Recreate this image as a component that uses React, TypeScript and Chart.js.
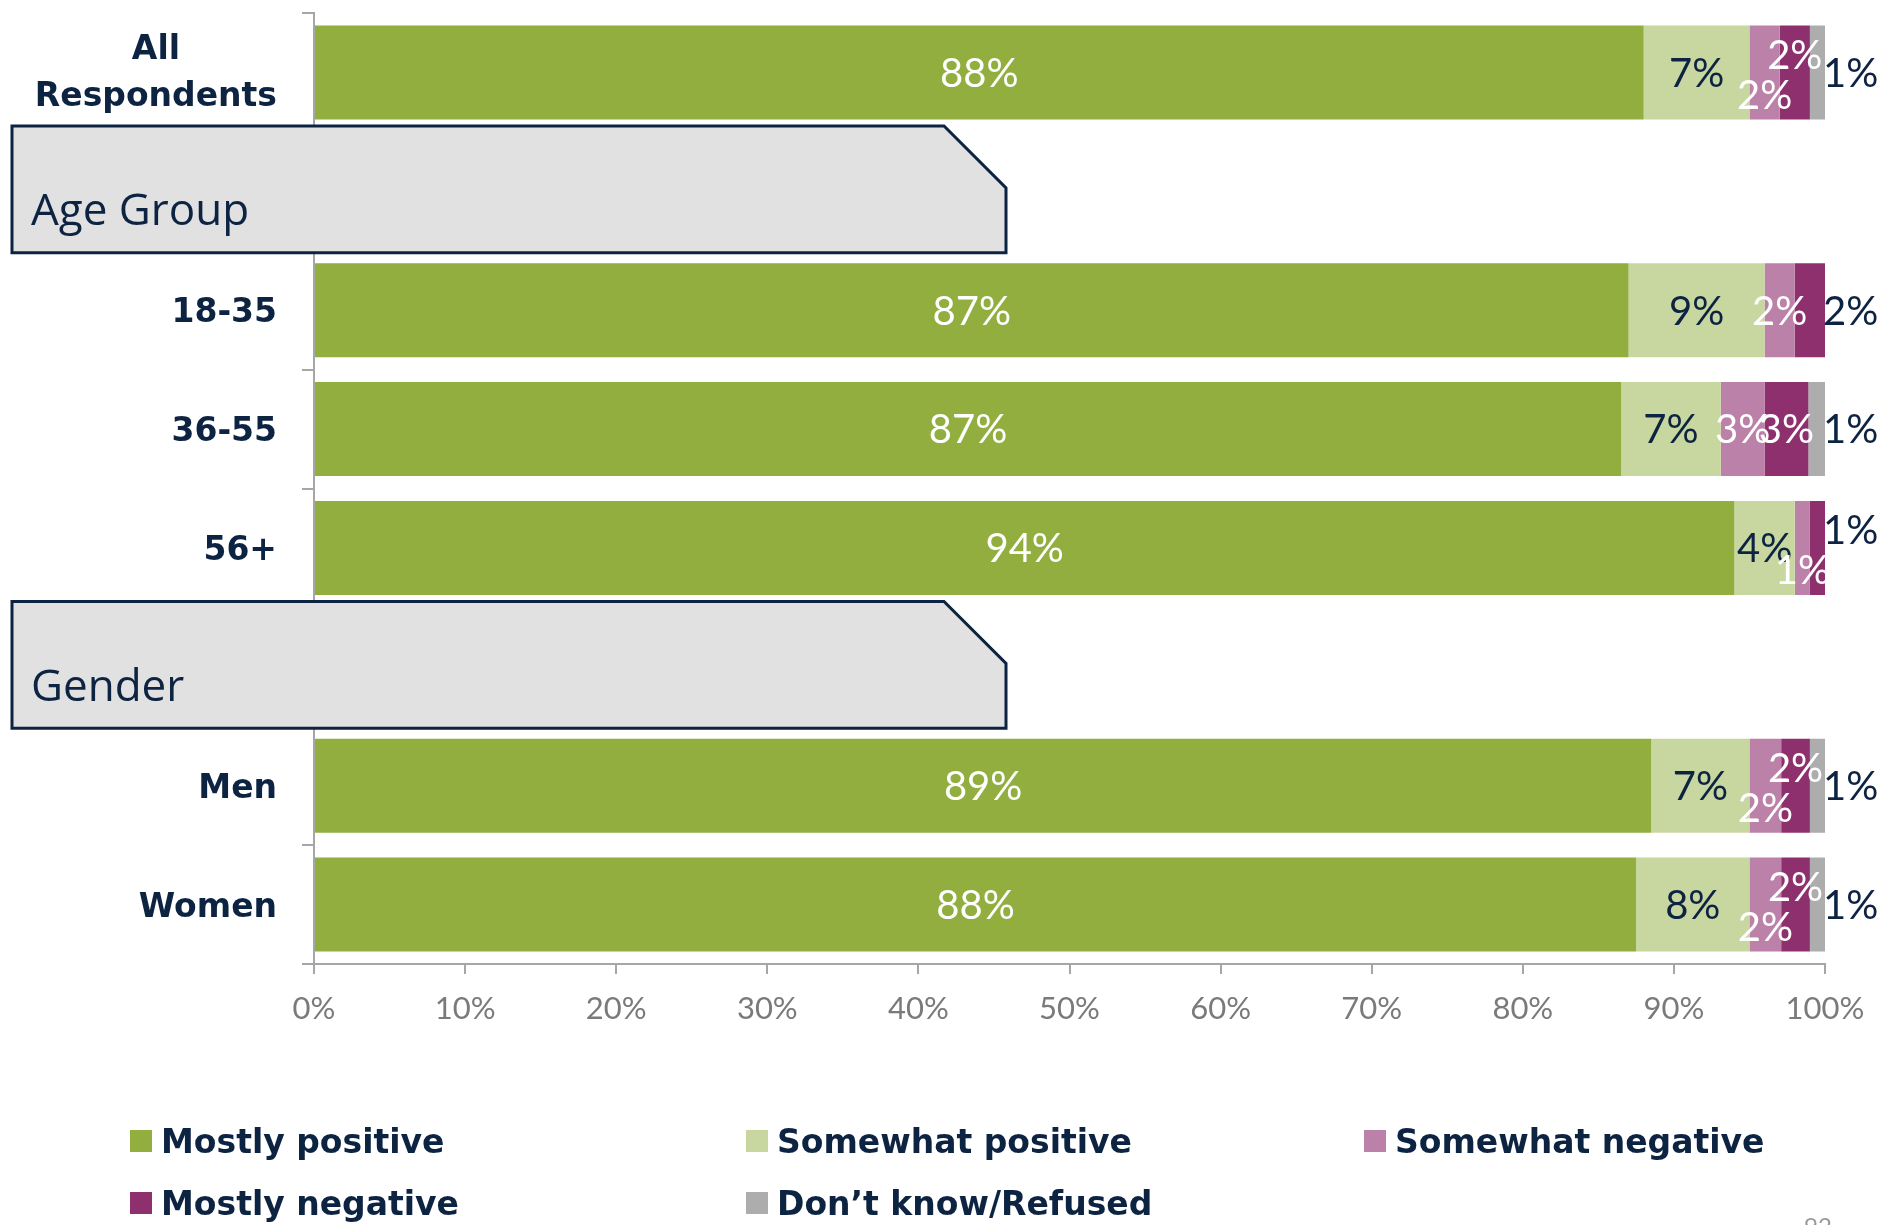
import React, { useEffect, useRef } from "react";
import { Chart, registerables } from "chart.js";

Chart.register(...registerables);

// ---- data ----
const categories: (string | string[])[] = [
  ["All", "Respondents"],
  "Age Group",
  "18-35",
  "36-55",
  "56+",
  "Gender",
  "Men",
  "Women",
];
const headerRows = [false, true, false, false, false, true, false, false];
const seriesNames = [
  "Mostly positive",
  "Somewhat positive",
  "Somewhat negative",
  "Mostly negative",
  "Don\u2019t know/Refused",
];
const mostlyPositive = [88, null, 87, 86.5, 94, null, 88.5, 87.5];
const somewhatPositive = [7, null, 9, 6.6, 4, null, 6.5, 7.5];
const somewhatNegative = [2, null, 2, 2.9, 1, null, 2.1, 2.1];
const mostlyNegative = [2, null, 2, 2.9, 1, null, 1.9, 1.9];
const dontKnow = [1, null, 0, 1.1, 0, null, 1.0, 1.0];
const xTickValues = [0, 10, 20, 30, 40, 50, 60, 70, 80, 90, 100];
const pageNumber = "92";

// ---- styles ----
const NAVY = "#0D2342";
const AXIS = "#A6A6A6";
const colors = ["#91AE3E", "#C8D79F", "#BC81A8", "#8E306E", "#ADADAD"];
const inLabelColors = ["#FFFFFF", NAVY, "#FFFFFF", "#FFFFFF", NAVY];
const VALUE_FONT = '40px Lato, "Open Sans", sans-serif';
const CAT_FONT = 'bold 33px "DejaVu Sans", sans-serif';
const LEGEND_FONT = 'bold 33px "DejaVu Sans", sans-serif';
const HEADER_FONT = '44px "Open Sans", "Noto Sans", sans-serif';

const overlayPlugin = {
  id: "overlay",
  afterDatasetsDraw(chart: any) {
    const ctx = chart.ctx;
    const ds = chart.data.datasets;
    ctx.save();
    ctx.font = VALUE_FONT;
    ctx.textBaseline = "alphabetic";
    const capHalf = 40 * 0.36;
    for (let i = 0; i < categories.length; i++) {
      if (headerRows[i]) continue;
      let last = -1;
      for (let d = 0; d < ds.length; d++) if ((ds[d].data[i] || 0) > 0) last = d;
      let prevLowered = false;
      for (let d = 0; d < ds.length; d++) {
        const v = ds[d].data[i] || 0;
        if (v <= 0) { prevLowered = false; continue; }
        const bar = chart.getDatasetMeta(d).data[i];
        const p = bar.getProps(["x", "base", "y"], true);
        const small = v < 2.5;
        let x: number;
        let y = p.y;
        let align: CanvasTextAlign = "center";
        let color = inLabelColors[d];
        let lowered = false;
        if (d === last && d >= 2) {
          x = p.x - 2;
          align = "left";
          color = NAVY;
          if (prevLowered) y -= 18;
        } else {
          x = (p.x + p.base) / 2;
          if (d === 2 && small) {
            const nextV = ds[3].data[i] || 0;
            if (v < 1.5 || (nextV > 0 && nextV < 2.5 && last !== 3)) {
              y += 22;
              lowered = true;
            }
          } else if (d === 3 && small && prevLowered) {
            y -= 18;
          }
        }
        ctx.fillStyle = color;
        ctx.textAlign = align;
        ctx.fillText(Math.round(v) + "%", x, y + capHalf);
        prevLowered = lowered;
      }
    }
    ctx.restore();
  },
  afterDraw(chart: any) {
    const ctx = chart.ctx;
    const yScale = chart.scales.y;
    ctx.save();
    // category labels and section headers
    for (let i = 0; i < categories.length; i++) {
      const cy = yScale.getPixelForValue(i);
      const top = yScale.getPixelForValue(i - 0.5);
      const bottom = yScale.getPixelForValue(i + 0.5);
      const lab = categories[i];
      if (headerRows[i]) {
        const left = 12, right = 1006, bt = top - 6, bb = bottom + 2, cut = 62;
        ctx.beginPath();
        ctx.moveTo(left, bt);
        ctx.lineTo(right - cut, bt);
        ctx.lineTo(right, bt + cut);
        ctx.lineTo(right, bb);
        ctx.lineTo(left, bb);
        ctx.closePath();
        ctx.fillStyle = "#E1E1E1";
        ctx.fill();
        ctx.lineWidth = 3;
        ctx.strokeStyle = NAVY;
        ctx.stroke();
        ctx.font = HEADER_FONT;
        ctx.fillStyle = NAVY;
        ctx.textAlign = "left";
        ctx.textBaseline = "alphabetic";
        ctx.fillText(String(lab), left + 19, cy + 34);
        continue;
      }
      ctx.font = CAT_FONT;
      ctx.fillStyle = NAVY;
      ctx.textBaseline = "alphabetic";
      const lines = Array.isArray(lab) ? lab : [lab];
      const rightEdge = 277;
      const lh = 47;
      if (lines.length === 1) {
        ctx.textAlign = "right";
        ctx.fillText(lines[0], rightEdge, cy + 12);
      } else {
        const w = Math.max(...lines.map((l) => ctx.measureText(l).width));
        const cx = rightEdge - w / 2;
        ctx.textAlign = "center";
        const firstBase = cy + 12 - ((lines.length - 1) * lh) / 2 - 2;
        lines.forEach((l, k) => ctx.fillText(l, cx, firstBase + k * lh));
      }
    }
    // legend
    const colX = [130, 746, 1364];
    const rowY = [1130, 1192];
    ctx.font = LEGEND_FONT;
    ctx.textAlign = "left";
    ctx.textBaseline = "alphabetic";
    seriesNames.forEach((name, k) => {
      const x = colX[k % 3];
      const y = rowY[Math.floor(k / 3)];
      ctx.fillStyle = colors[k];
      ctx.fillRect(x, y, 22, 22);
      ctx.fillStyle = NAVY;
      ctx.fillText(name, x + 31, y + 23);
    });
    // page number
    ctx.font = '24px Lato, sans-serif';
    ctx.fillStyle = "#9A9A9A";
    ctx.textBaseline = "top";
    ctx.fillText(pageNumber, 1804, 1215);
    ctx.restore();
  },
};

export default function App() {
  const ref = useRef<HTMLCanvasElement | null>(null);
  useEffect(() => {
    if (!ref.current) return;
    const series = [mostlyPositive, somewhatPositive, somewhatNegative, mostlyNegative, dontKnow];
    const chart = new Chart(ref.current, {
      type: "bar",
      data: {
        labels: categories as any,
        datasets: series.map((data, k) => ({
          label: seriesNames[k],
          data: data as any,
          backgroundColor: colors[k],
          borderWidth: 0,
          stack: "s",
          categoryPercentage: 1,
          barPercentage: 0.79,
        })),
      },
      options: {
        indexAxis: "y",
        animation: false,
        responsive: true,
        maintainAspectRatio: false,
        layout: { padding: { top: 13, right: 56, left: 0, bottom: 0 } },
        plugins: { legend: { display: false }, tooltip: { enabled: false } },
        scales: {
          x: {
            stacked: true,
            min: 0,
            max: 100,
            afterBuildTicks(scale: any) {
              scale.ticks = xTickValues.map((v) => ({ value: v }));
            },
            ticks: {
              callback: (v: any) => v + "%",
              color: "#7A7A7A",
              font: { family: "Lato", size: 31 },
              padding: 16,
              maxRotation: 0,
            },
            grid: { drawOnChartArea: false, drawTicks: true, tickLength: 10, color: AXIS, lineWidth: 2 },
            border: { display: true, color: AXIS, width: 2 },
            afterFit(scale: any) {
              scale.height = 261;
            },
          },
          y: {
            stacked: true,
            ticks: { display: false },
            grid: { offset: true, drawOnChartArea: false, drawTicks: true, tickLength: 12, color: AXIS, lineWidth: 2 },
            border: { display: true, color: AXIS, width: 2 },
            afterFit(scale: any) {
              scale.width = 314;
            },
          },
        },
      } as any,
      plugins: [overlayPlugin],
    });
    return () => chart.destroy();
  }, []);
  return (
    <div style={{ position: "absolute", left: 0, top: 0, width: 1881, height: 1225, background: "#FFFFFF" }}>
      <canvas ref={ref} />
    </div>
  );
}
